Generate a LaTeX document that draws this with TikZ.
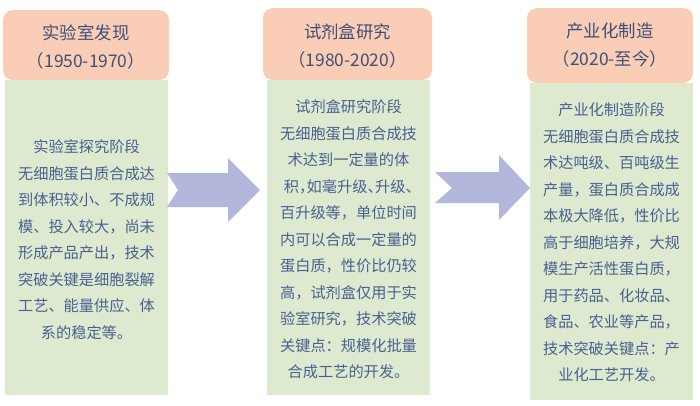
\documentclass[tikz,border=0pt]{standalone}
\usepackage{fontspec}
\newfontfamily\cjk{Noto Sans CJK SC}
\definecolor{peach}{HTML}{F9CDB6}
\definecolor{paleg}{HTML}{DDEAD0}
\definecolor{arrowc}{HTML}{B3B7DB}
\definecolor{headtxt}{HTML}{3F5078}
\definecolor{bodytxt}{HTML}{4A6090}
\begin{document}
\begin{tikzpicture}[x=1pt,y=-1pt,
  headbox/.style={fill=peach,draw=none,rounded corners=10pt,inner sep=0pt},
  bodybox/.style={fill=paleg,draw=none,inner sep=0pt},
  headtext/.style={text=headtxt,align=center,font=\cjk\fontsize{17.4}{28}\selectfont},
  bodytext/.style={text=bodytxt,align=center,font=\cjk\fontsize{15.2}{26.5}\selectfont},
  blockarrow/.style={fill=arrowc,draw=none}]
\useasboundingbox (0,0) rectangle (700,405);
% stage 1
\node[headbox,minimum width=166pt,minimum height=70pt] (h1) at (86,45) {};
\node[bodybox,minimum width=163pt,minimum height=315pt] (g1) at (86.5,237.5) {};
\node[headtext] (t1) at (86,47) {实验室发现\\（1950-1970）};
\node[bodytext] (b1) at (86.5,239.5) {实验室探究阶段\\无细胞蛋白质合成达\\到体积较小、不成规\\模、投入较大，尚未\\形成产品产出，技术\\突破关键是细胞裂解\\工艺、能量供应、体\\系的稳定等。};
% stage 2
\node[headbox,minimum width=169pt,minimum height=72pt] (h2) at (347.5,44) {};
\node[bodybox,minimum width=163pt,minimum height=315pt] (g2) at (348.5,237.5) {};
\node[headtext] (t2) at (347.5,46) {试剂盒研究\\（1980-2020）};
\node[bodytext] (b2) at (348.5,239.5) {试剂盒研究阶段\\无细胞蛋白质合成技\\术达到一定量的体\\{\addfontfeatures{RawFeature=+halt}积，如毫升级、升级、}\\百升级等，单位时间\\内可以合成一定量的\\蛋白质，性价比仍较\\高，试剂盒仅用于实\\验室研究，技术突破\\关键点：规模化批量\\合成工艺的开发。};
% stage 3
\node[headbox,minimum width=166pt,minimum height=75pt] (h3) at (610,45.5) {};
\node[bodybox,minimum width=163pt,minimum height=317pt] (g3) at (611.5,241.5) {};
\node[headtext] (t3) at (610,45.5) {产业化制造\\（2020-至今）};
\node[bodytext] (b3) at (611.5,242.5) {产业化制造阶段\\无细胞蛋白质合成技\\术达吨级、百吨级生\\产量，蛋白质合成成\\本极大降低，性价比\\高于细胞培养，大规\\模生产活性蛋白质，\\用于药品、化妆品、\\食品、农业等产品，\\技术突破关键点：产\\业化工艺开发。};
% arrows
\fill[blockarrow] (167,173) -- (228,173) -- (228,158) -- (260,190) -- (228,222) -- (228,207) -- (167,207) -- (178,190) -- cycle;
\fill[blockarrow] (435,172) -- (499,172) -- (499,155) -- (530,188) -- (499,220) -- (499,203) -- (435,203) -- (452,188) -- cycle;
\end{tikzpicture}
\end{document}
